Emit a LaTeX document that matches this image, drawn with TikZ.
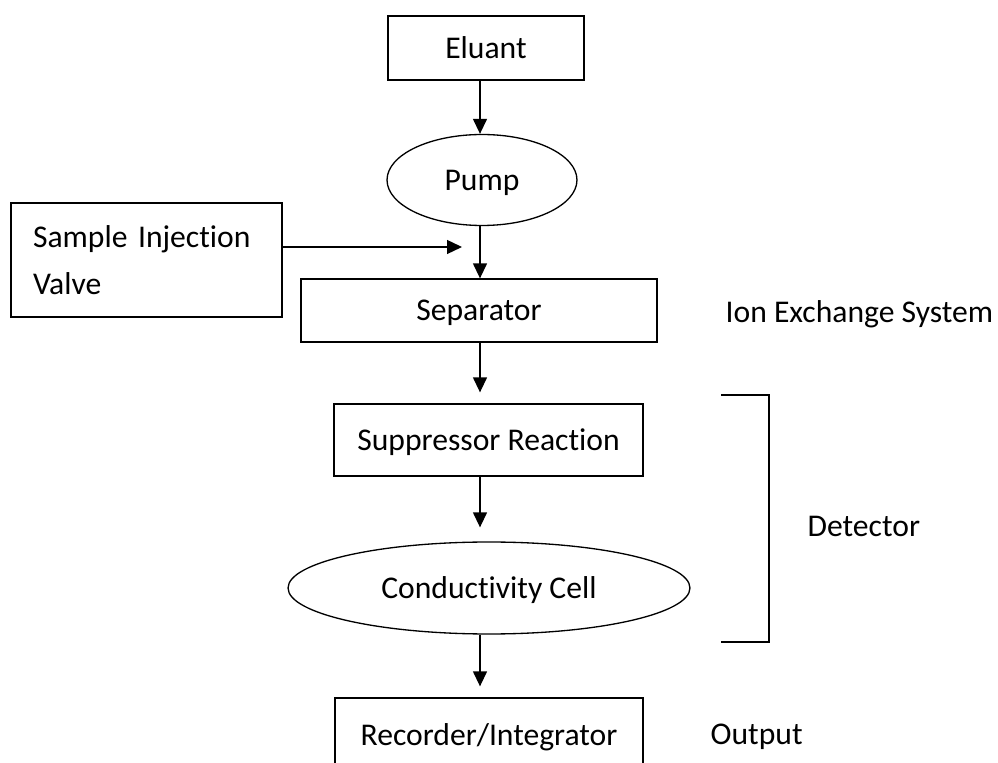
\documentclass[tikz,border=0pt]{standalone}
\usepackage{fontspec}
\setmainfont{Carlito}[Ligatures=NoCommon]
\usepackage{tikz}
\usetikzlibrary{arrows.meta,shapes.geometric}

\begin{document}
\begin{tikzpicture}[
    x=0.02cm, y=-0.02cm,
    line width=0.75pt,
    font=\fontsize{18}{27}\selectfont,
    box/.style={draw, rectangle, inner sep=0pt, text depth=0pt},
    oval/.style={draw, ellipse, inner sep=0pt, text depth=0pt},
    lbl/.style={draw=none, anchor=west, inner sep=0pt},
    flow/.style={-{Triangle[length=0.3cm, width=0.28cm]}}
]
\useasboundingbox (0,0) rectangle (998,763);
\clip (0,0) rectangle (998,763);
% --- Main chain of units ---
\node[box, minimum width=3.92cm, minimum height=1.28cm] (eluant) at (486,48) {Eluant};
\node[oval, minimum width=3.8cm, minimum height=1.82cm] (pump) at (482,180) {Pump};
\node[box, minimum width=7.12cm, minimum height=1.26cm] (sep) at (479,310.5) {Separator};
\node[box, minimum width=6.18cm, minimum height=1.44cm] (supp) at (488.5,440) {Suppressor Reaction};
\node[oval, minimum width=8.04cm, minimum height=1.84cm] (cond) at (489,588) {Conductivity Cell};
\node[box, minimum width=6.16cm, minimum height=1.48cm] (rec) at (489,735) {Recorder/Integrator};
% --- Sample injection ---
\node[draw, rectangle, minimum width=5.42cm, minimum height=2.28cm, text width=4.54cm,
      align=left, inner xsep=0.44cm] (valve) at (146.5,260) {Sample Injection\\Valve};
% --- Side labels ---
\node[lbl] (ion) at (725,314) {Ion Exchange System};
\node[lbl] (det) at (807,526) {Detector};
\node[lbl] (out) at (710,737) {Output};
% --- Arrows down the chain ---
\coordinate (spine) at (480,0);
\coordinate (join) at (462,247);
\draw[flow] (spine |- eluant.south) -- (spine |- pump.north);
\draw[flow] (spine |- pump.south) -- (spine |- sep.north);
\draw[flow, shorten >=0.22cm] (spine |- sep.south) -- (spine |- supp.north);
\draw[flow, shorten >=0.28cm] (spine |- supp.south) -- (spine |- cond.north);
\draw[flow, shorten >=0.22cm] (spine |- cond.south) -- (spine |- rec.north);
\draw[flow] (valve.east |- join) -- (join);
% --- Detector bracket ---
\draw (721,395) -- (769,395) -- (769,642) -- (721,642);
\end{tikzpicture}
\end{document}
